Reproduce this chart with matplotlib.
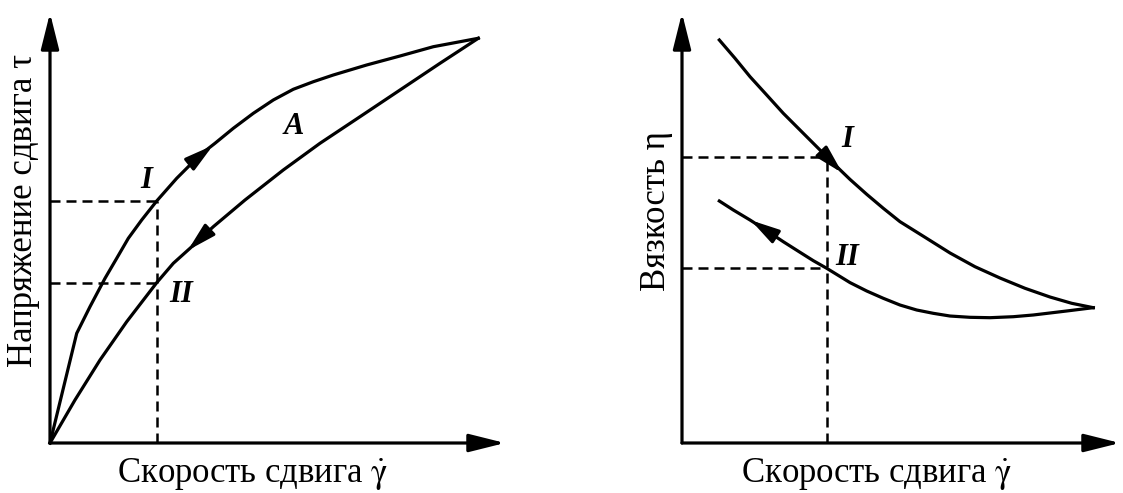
import numpy as np
import matplotlib
matplotlib.use('Agg')
import matplotlib.pyplot as plt

plt.rcParams['font.family'] = ['Liberation Serif', 'DejaVu Serif']
plt.rcParams['mathtext.fontset'] = 'stix'

# левая панель: кривые течения (напряжение сдвига от скорости сдвига)
up_x = [0, 5.87, 8.79, 12.09, 14.66, 17.21, 20.15, 23.45, 27.85, 32.97, 36.26, 40.29,
        44.68, 49.08, 53.47, 57.87, 62.26, 69.60, 76.92, 84.24, 94.13]
up_y = [0, 25.51, 31.70, 38.30, 42.95, 47.60, 51.86, 56.28, 61.56, 66.98, 69.70, 73.19,
        76.67, 79.77, 82.26, 84.02, 85.58, 87.91, 90.00, 92.16, 94.12]
down_x = [94.13, 85.71, 76.92, 68.13, 59.34, 51.27, 42.86, 35.89, 30.77, 27.10, 23.45,
          16.86, 10.99, 5.49, 0]
down_y = [94.12, 88.30, 82.09, 75.88, 69.70, 63.49, 56.51, 50.30, 45.28, 41.79, 37.28,
          28.21, 19.30, 10.00, 0]
tau_x = 23.45
tau_I = 56.28
tau_II = 37.28

# правая панель: вязкость от скорости сдвига
eta_up_x = [8.52, 12.10, 15.53, 19.34, 23.13, 26.94, 30.75, 34.54, 38.36, 42.17, 45.96,
            49.77, 55.48, 61.19, 66.89, 72.60, 78.31, 84.02, 88.97, 93.90]
eta_up_y = [93.72, 89.47, 85.19, 80.93, 76.67, 72.79, 68.91, 65.05, 61.30, 57.84, 54.58,
            51.47, 47.84, 44.19, 41.00, 38.37, 35.98, 33.95, 32.49, 31.47]
eta_dn_x = [93.90, 87.83, 80.21, 75.64, 70.32, 65.75, 61.19, 57.37, 53.58, 49.77, 45.96,
            42.17, 38.36, 33.04, 29.98, 26.94, 23.13, 19.34, 15.53, 11.71, 8.52]
eta_dn_y = [31.47, 30.70, 29.77, 29.37, 29.14, 29.23, 29.53, 30.16, 30.93, 32.09, 33.65,
            35.35, 37.30, 40.63, 42.40, 44.35, 46.81, 49.37, 51.86, 54.19, 56.28]
eta_x = 33.1
eta_I = 66.5
eta_II = 40.63

W, H = 1123, 493
fig = plt.figure(figsize=(W / 100, H / 100), dpi=100)
ax1 = fig.add_axes([50 / W, 50 / H, 455 / W, 430 / H])
ax2 = fig.add_axes([682 / W, 50 / H, 438 / W, 430 / H])

LW = 2.3
xlabel = r'Скорость сдвига $\dot{\mathrm{\gamma}}$'


def draw_axes(ax, ylabel):
    ax.set_xlim(0, 100)
    ax.set_ylim(0, 100)
    ax.axis('off')
    arr = dict(arrowstyle='-|>,head_length=2.2,head_width=0.55', mutation_scale=10,
               lw=LW, color='k', shrinkA=0, shrinkB=0)
    ax.annotate('', xy=(100, 0), xytext=(0, 0), arrowprops=arr, annotation_clip=False)
    ax.annotate('', xy=(0, 100), xytext=(0, 0), arrowprops=arr, annotation_clip=False)
    ax.text(44.5, -9.0, xlabel, ha='center', va='baseline', fontsize=25)
    ax.text(-5.8, 54, ylabel, rotation=90, ha='center', va='center', fontsize=25)


def dashed(ax, x, y1, y2):
    kw = dict(color='k', lw=1.8, ls=(0, (4, 2.4)), clip_on=False)
    ax.plot([x, x], [0, y1], **kw)
    ax.plot([0, x], [y1, y1], **kw)
    ax.plot([0, x], [y2, y2], **kw)


def arrow_on(ax, tip, tail):
    ax.annotate('', xy=tip, xytext=tail,
                arrowprops=dict(arrowstyle='-|>,head_length=1.7,head_width=0.45', mutation_scale=10,
                                lw=LW, color='k', shrinkA=0, shrinkB=0))


lab = dict(fontsize=22, fontweight='bold', fontstyle='italic', ha='center', va='center')

# левая панель
draw_axes(ax1, 'Напряжение сдвига τ')
dashed(ax1, tau_x, tau_I, tau_II)
ax1.plot(up_x, up_y, color='k', lw=LW, solid_joinstyle='round', clip_on=False)
ax1.plot(down_x, down_y, color='k', lw=LW, solid_joinstyle='round', clip_on=False)
arrow_on(ax1, (35.8, 69.2), (32.5, 66.4))
arrow_on(ax1, (30.3, 44.8), (33.5, 48.0))
ax1.text(21.1, 61.0, 'I', **lab)
ax1.text(28.9, 34.6, 'II', **lab)
ax1.text(53.6, 73.6, 'A', **lab)

# правая панель
draw_axes(ax2, 'Вязкость η')
dashed(ax2, eta_x, eta_I, eta_II)
ax2.plot(eta_up_x, eta_up_y, color='k', lw=LW, solid_joinstyle='round', clip_on=False)
ax2.plot(eta_dn_x, eta_dn_y, color='k', lw=LW, solid_joinstyle='round', clip_on=False)
arrow_on(ax2, (36.6, 62.8), (33.1, 66.5))
arrow_on(ax2, (15.7, 51.8), (19.5, 49.3))
ax2.text(37.7, 70.5, 'I', **lab)
ax2.text(37.6, 43.2, 'II', **lab)

fig.savefig('out.png', dpi=100)
